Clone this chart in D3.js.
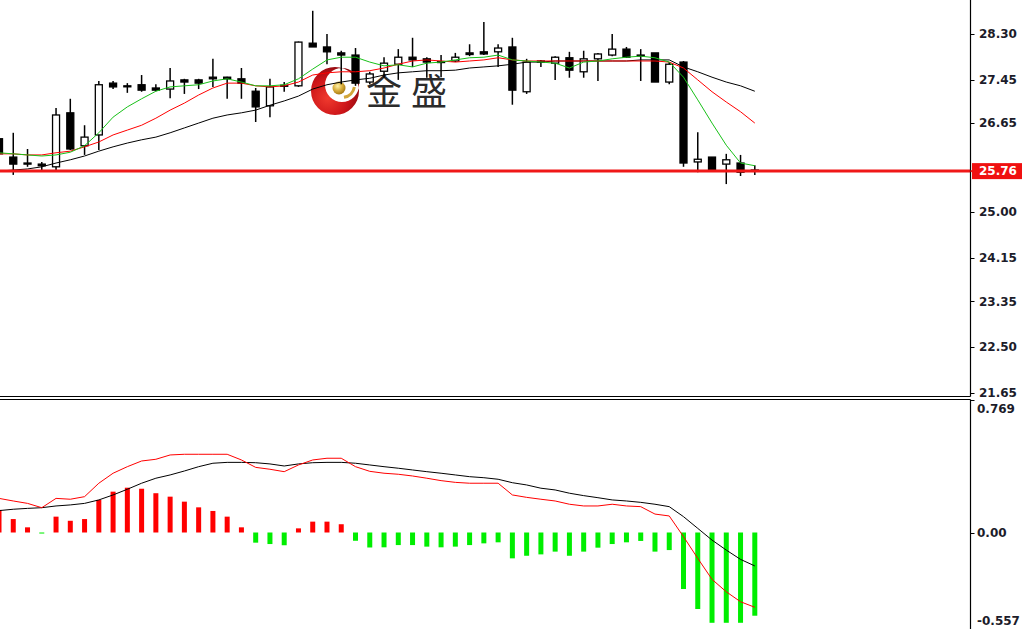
<!DOCTYPE html>
<html><head><meta charset="utf-8">
<script src="https://cdn.jsdelivr.net/npm/d3@7"></script>
<style>html,body{margin:0;padding:0;background:#fff;overflow:hidden}</style>
</head><body><svg id="c" width="1022" height="629"></svg>
<script>
// ---- data ----
const openP  = [26.36,26.02,25.91,25.89,25.84,26.84,26.23,26.43,27.39,27.34,27.36,27.30,27.28,27.45,27.45,27.50,27.50,27.47,27.24,26.97,27.34,27.34,28.13,28.06,27.95,27.91,27.41,27.61,27.74,27.87,27.84,27.79,27.80,27.95,27.97,27.97,28.06,27.23,27.80,27.76,27.86,27.60,27.84,27.91,28.02,27.91,27.95,27.41,27.78,25.93,26.02,25.89,25.91,25.78];
const highP  = [26.37,26.47,26.17,25.93,26.93,27.10,26.61,27.43,27.43,27.39,27.54,27.37,27.67,27.47,27.47,27.84,27.51,27.67,27.30,27.47,27.41,28.16,28.73,28.30,27.99,28.04,27.60,27.87,28.02,28.23,27.87,27.91,27.95,28.11,28.52,28.11,28.23,27.84,27.82,27.89,27.97,27.99,27.95,28.30,28.06,28.02,27.95,27.78,27.80,26.48,26.02,26.08,26.06,25.87];
const lowP   = [25.82,25.69,25.84,25.78,25.78,26.15,26.06,26.15,27.28,27.21,27.23,27.24,27.11,27.19,27.28,27.32,27.10,27.10,26.67,26.76,27.23,27.32,28.06,27.74,27.37,27.34,27.37,27.49,27.45,27.69,27.49,27.50,27.78,27.89,27.91,27.69,26.99,27.19,27.69,27.45,27.49,27.49,27.43,27.89,27.86,27.43,27.41,27.37,25.84,25.74,25.76,25.52,25.67,25.69];
const closeP = [26.08,25.89,25.89,25.86,26.80,26.17,26.39,27.36,27.32,27.33,27.26,27.26,27.43,27.41,27.39,27.47,27.47,27.39,26.95,27.32,27.35,28.15,28.06,27.97,27.91,27.39,27.56,27.76,27.87,27.82,27.78,27.78,27.87,27.92,27.93,28.04,27.26,27.78,27.78,27.87,27.63,27.84,27.93,28.02,27.87,27.90,27.41,27.74,25.91,25.98,25.76,25.97,25.74,25.76];

const maFast = [26.10,26.08,26.06,26.04,26.06,26.11,26.23,26.47,26.76,26.95,27.10,27.24,27.32,27.34,27.36,27.43,27.47,27.41,27.34,27.34,27.36,27.47,27.65,27.82,27.87,27.87,27.78,27.71,27.73,27.69,27.76,27.78,27.82,27.86,27.87,27.91,27.82,27.80,27.78,27.76,27.67,27.78,27.80,27.84,27.87,27.89,27.86,27.78,27.50,27.08,26.65,26.24,25.91,25.86];
const maMid  = [26.08,26.08,26.06,26.06,26.10,26.13,26.21,26.30,26.43,26.52,26.61,26.74,26.89,27.02,27.17,27.30,27.39,27.39,27.34,27.32,27.34,27.41,27.54,27.58,27.60,27.60,27.62,27.67,27.74,27.80,27.82,27.80,27.78,27.80,27.82,27.86,27.82,27.80,27.80,27.80,27.80,27.80,27.80,27.80,27.80,27.80,27.80,27.78,27.67,27.45,27.23,27.04,26.86,26.65];
const maSlow = [25.76,25.78,25.80,25.84,25.91,25.97,26.04,26.13,26.21,26.28,26.34,26.39,26.47,26.56,26.65,26.74,26.80,26.84,26.89,26.98,27.06,27.15,27.28,27.36,27.41,27.45,27.48,27.54,27.58,27.60,27.62,27.62,27.63,27.67,27.69,27.71,27.74,27.78,27.78,27.80,27.80,27.80,27.80,27.80,27.80,27.82,27.82,27.82,27.69,27.60,27.50,27.41,27.34,27.24];

const macdHist  = [0.131,0.078,0.030,-0.006,0.092,0.068,0.078,0.189,0.237,0.260,0.254,0.228,0.208,0.179,0.146,0.125,0.092,0.030,-0.059,-0.067,-0.074,0.024,0.063,0.063,0.048,-0.048,-0.087,-0.086,-0.073,-0.073,-0.082,-0.086,-0.082,-0.073,-0.063,-0.057,-0.150,-0.135,-0.127,-0.111,-0.135,-0.111,-0.088,-0.067,-0.057,-0.049,-0.111,-0.102,-0.328,-0.444,-0.524,-0.524,-0.524,-0.483];
const macdRed   = [0.198,0.183,0.169,0.144,0.198,0.193,0.208,0.286,0.344,0.382,0.415,0.425,0.450,0.454,0.454,0.454,0.454,0.421,0.378,0.367,0.353,0.392,0.421,0.431,0.431,0.382,0.355,0.344,0.338,0.328,0.315,0.301,0.291,0.286,0.286,0.286,0.218,0.204,0.193,0.183,0.164,0.154,0.154,0.164,0.154,0.150,0.107,0.096,-0.024,-0.150,-0.272,-0.344,-0.402,-0.434];
const macdBlack = [0.127,0.135,0.140,0.144,0.154,0.160,0.169,0.189,0.218,0.251,0.286,0.315,0.334,0.357,0.382,0.402,0.407,0.407,0.405,0.398,0.386,0.398,0.405,0.407,0.407,0.402,0.392,0.382,0.373,0.363,0.353,0.344,0.334,0.324,0.318,0.309,0.289,0.276,0.257,0.247,0.228,0.214,0.202,0.189,0.183,0.175,0.164,0.150,0.092,0.024,-0.044,-0.102,-0.156,-0.194];

const priceTicks  = [28.30,27.45,26.65,25.00,24.15,23.35,22.50,21.65];
const lastPrice   = 25.76;
const macdTicks   = [0.769, 0.00];
const macdTickLabels = ["0.769","0.00"];
const macdBottomLabel = "-0.557";
const logoText = ["金","盛"];

// ---- drawing ----
const svg = d3.select("#c");
const axisX = 970.5;
const n = closeP.length;
const x  = d3.scaleLinear().domain([0, n-1]).range([-1, 754.8]);
const y  = d3.scaleLinear().domain([21.65, 28.30]).range([393, 34]);
const ym = d3.scaleLinear().domain([0, 0.769]).range([532.5, 400]);

const defs = svg.append("defs");
defs.append("clipPath").attr("id","cpMain").append("rect").attr("x",0).attr("y",0).attr("width",970).attr("height",396);
defs.append("clipPath").attr("id","cpSub").append("rect").attr("x",0).attr("y",400).attr("width",970).attr("height",229);
const rg = defs.append("radialGradient").attr("id","redG").attr("cx","35%").attr("cy","65%").attr("r","70%");
rg.append("stop").attr("offset","0%").attr("stop-color","#f03a2e");
rg.append("stop").attr("offset","60%").attr("stop-color","#cc1418");
rg.append("stop").attr("offset","100%").attr("stop-color","#8e0a10");
const gg = defs.append("radialGradient").attr("id","goldG").attr("cx","40%").attr("cy","35%").attr("r","65%");
gg.append("stop").attr("offset","0%").attr("stop-color","#fff2a8");
gg.append("stop").attr("offset","55%").attr("stop-color","#d9ae3c");
gg.append("stop").attr("offset","100%").attr("stop-color","#a77a14");

svg.append("rect").attr("width",1022).attr("height",629).attr("fill","#fff");

// watermark logo
const logo = svg.append("g");
const cx0=335, cy0=91, R=24, cx1=342, cy1=85, r1=17;
logo.append("path")
  .attr("d", `M${cx0-R},${cy0} a${R},${R} 0 1,0 ${2*R},0 a${R},${R} 0 1,0 ${-2*R},0 Z M${cx1-r1},${cy1} a${r1},${r1} 0 1,0 ${2*r1},0 a${r1},${r1} 0 1,0 ${-2*r1},0 Z`)
  .attr("fill","url(#redG)").attr("fill-rule","evenodd");
const arc = d3.arc().innerRadius(11).outerRadius(14).startAngle(Math.PI*0.55).endAngle(Math.PI*0.95);
logo.append("path").attr("d",arc()).attr("transform",`translate(${cx1},${cy1})`).attr("fill","#d2a63a");
logo.append("circle").attr("cx",339).attr("cy",88).attr("r",6.5).attr("fill","url(#goldG)");
logo.selectAll("text.lt").data(logoText).join("text").attr("class","lt")
  .attr("x",(d,i)=>366+i*45).attr("y",105)
  .attr("font-family","'Noto Sans CJK SC','Noto Sans CJK JP',sans-serif")
  .attr("font-size",36).attr("fill","#2b2b2b").text(d=>d);

// main panel
const gMain = svg.append("g").attr("clip-path","url(#cpMain)");
const idx = d3.range(n);
const cg = gMain.append("g");
cg.selectAll("line.w").data(idx).join("line").attr("class","w")
  .attr("x1",i=>x(i)).attr("x2",i=>x(i)).attr("y1",i=>y(highP[i])).attr("y2",i=>y(lowP[i]))
  .attr("stroke","#000").attr("stroke-width",1.5);
cg.selectAll("rect.b").data(idx).join("rect").attr("class","b")
  .attr("x",i=>x(i)-3.5).attr("width",7)
  .attr("y",i=>Math.min(y(openP[i]),y(closeP[i])))
  .attr("height",i=>Math.max(1,Math.abs(y(openP[i])-y(closeP[i]))))
  .attr("fill",i=>closeP[i]>=openP[i]?"#fff":"#000")
  .attr("stroke","#000").attr("stroke-width",1.3);

const lineP = d3.line().x((d,i)=>x(i)).y(d=>y(d));
gMain.append("path").attr("d",lineP(maSlow)).attr("fill","none").attr("stroke","#000").attr("stroke-width",1);
gMain.append("path").attr("d",lineP(maMid)).attr("fill","none").attr("stroke","#ff0000").attr("stroke-width",1);
gMain.append("path").attr("d",lineP(maFast)).attr("fill","none").attr("stroke","#19c119").attr("stroke-width",1);

gMain.append("line").attr("x1",0).attr("x2",970).attr("y1",y(lastPrice)).attr("y2",y(lastPrice))
  .attr("stroke","#f01818").attr("stroke-width",3);

// sub panel (MACD)
const gSub = svg.append("g").attr("clip-path","url(#cpSub)");
gSub.selectAll("rect.h").data(idx).join("rect").attr("class","h")
  .attr("x",i=>x(i)-2.5).attr("width",5)
  .attr("y",i=>Math.min(ym(0),ym(macdHist[i])))
  .attr("height",i=>Math.max(1,Math.abs(ym(macdHist[i])-ym(0))))
  .attr("fill",i=>macdHist[i]>=0?"#ff0000":"#00ee00");
const lineM = d3.line().x((d,i)=>x(i)).y(d=>ym(d));
gSub.append("path").attr("d",lineM(macdBlack)).attr("fill","none").attr("stroke","#000").attr("stroke-width",1);
gSub.append("path").attr("d",lineM(macdRed)).attr("fill","none").attr("stroke","#ff0000").attr("stroke-width",1);

// frame lines
const fr = svg.append("g").attr("stroke","#000").attr("stroke-width",1.2);
fr.append("line").attr("x1",axisX).attr("x2",axisX).attr("y1",0).attr("y2",396.5);
fr.append("line").attr("x1",0).attr("x2",axisX).attr("y1",396.5).attr("y2",396.5);
fr.append("line").attr("x1",0).attr("x2",axisX).attr("y1",399.5).attr("y2",399.5);
fr.append("line").attr("x1",axisX).attr("x2",axisX).attr("y1",399.5).attr("y2",629);

// price axis
const font = "'DejaVu Sans',Verdana,sans-serif";
const pa = svg.append("g");
pa.selectAll("line").data(priceTicks).join("line")
  .attr("x1",axisX).attr("x2",axisX+4).attr("y1",d=>Math.round(y(d))+0.5).attr("y2",d=>Math.round(y(d))+0.5)
  .attr("stroke","#000").attr("stroke-width",1);
pa.selectAll("text").data(priceTicks).join("text")
  .attr("x",979).attr("y",d=>y(d)).attr("dy","0.36em")
  .attr("font-family",font).attr("font-weight","bold").attr("font-size",12).attr("fill","#1c1c2a")
  .text(d=>d.toFixed(2));

const ly = y(lastPrice);
svg.append("line").attr("x1",axisX).attr("x2",axisX+4).attr("y1",ly).attr("y2",ly).attr("stroke","#f01818").attr("stroke-width",2);
svg.append("rect").attr("x",972).attr("y",ly-8).attr("width",50).attr("height",16).attr("fill","#f01010");
svg.append("text").attr("x",979).attr("y",ly).attr("dy","0.36em")
  .attr("font-family",font).attr("font-weight","bold").attr("font-size",12).attr("fill","#fff").text(lastPrice.toFixed(2));

// macd axis
const ma = svg.append("g");
ma.selectAll("line").data(macdTicks).join("line")
  .attr("x1",axisX).attr("x2",axisX+4).attr("y1",d=>Math.round(ym(d))+0.5).attr("y2",d=>Math.round(ym(d))+0.5)
  .attr("stroke","#000");
ma.selectAll("text").data(macdTicks).join("text")
  .attr("x",977).attr("y",(d,i)=> i===0 ? ym(d)+9 : ym(d)).attr("dy","0.36em")
  .attr("font-family",font).attr("font-weight","bold").attr("font-size",12).attr("fill","#1c1c2a")
  .text((d,i)=>macdTickLabels[i]);
ma.append("text").attr("x",977).attr("y",621).attr("dy","0.36em")
  .attr("font-family",font).attr("font-weight","bold").attr("font-size",12).attr("fill","#1c1c2a")
  .text(macdBottomLabel);
</script>
</body></html>
